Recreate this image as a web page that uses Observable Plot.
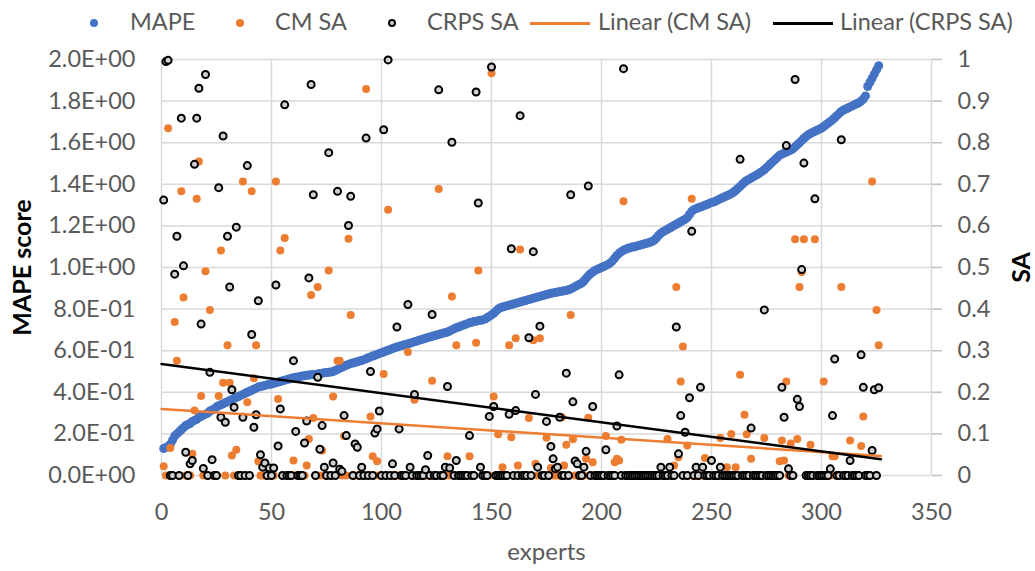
<!DOCTYPE html>
<html>
<head>
<meta charset="utf-8">
<script src="https://cdn.jsdelivr.net/npm/d3@7"></script>
<script src="https://cdn.jsdelivr.net/npm/@observablehq/plot@0.6"></script>
<style>
  html, body { margin: 0; padding: 0; background: #fff; }
  body { width: 1035px; height: 571px; overflow: hidden; font-family: Lato, "Liberation Sans", sans-serif; }
  #legend { position: relative; width: 1035px; height: 40px; color: #595959; font-size: 23.5px; }
  #legend .lt { position: absolute; top: 6px; line-height: 30px; white-space: nowrap; }
  #legend .mk { position: absolute; box-sizing: border-box; border-radius: 50%; }
  #legend .ln { position: absolute; height: 3px; width: 60px; top: 22px; }
</style>
</head>
<body>
<div id="legend"></div>
<div id="chart"></div>
<script>
// ---------- data ----------
const seriesNames = ["MAPE", "CM SA", "CRPS SA", "Linear (CM SA)", "Linear (CRPS SA)"];

// MAPE score of experts 1..326 (sorted ascending, left axis)
const mape = [
  0.13,0.135,0.14,0.15,0.17,0.19,0.20,0.21,0.22,0.23,
  0.24,0.245,0.25,0.26,0.265,0.27,0.28,0.285,0.29,0.295,
  0.30,0.31,0.315,0.32,0.33,0.335,0.34,0.345,0.35,0.355,
  0.36,0.365,0.37,0.375,0.38,0.385,0.39,0.395,0.40,0.405,
  0.41,0.415,0.42,0.425,0.428,0.43,0.433,0.436,0.438,0.44,
  0.443,0.446,0.449,0.452,0.455,0.458,0.461,0.464,0.467,0.47,
  0.472,0.474,0.476,0.478,0.48,0.482,0.483,0.484,0.485,0.486,
  0.488,0.49,0.492,0.494,0.495,0.496,0.497,0.50,0.505,0.51,
  0.515,0.52,0.525,0.53,0.534,0.538,0.541,0.544,0.547,0.55,
  0.553,0.557,0.561,0.566,0.57,0.574,0.578,0.582,0.586,0.59,
  0.594,0.598,0.602,0.606,0.61,0.614,0.618,0.621,0.624,0.627,
  0.63,0.633,0.636,0.64,0.643,0.646,0.65,0.653,0.656,0.66,
  0.663,0.666,0.669,0.672,0.675,0.678,0.681,0.684,0.687,0.69,
  0.695,0.70,0.705,0.71,0.714,0.718,0.722,0.726,0.73,0.734,
  0.737,0.74,0.742,0.744,0.746,0.748,0.752,0.758,0.765,0.772,
  0.78,0.79,0.80,0.806,0.81,0.813,0.816,0.819,0.822,0.825,
  0.828,0.831,0.834,0.837,0.84,0.843,0.846,0.849,0.852,0.855,
  0.858,0.861,0.864,0.867,0.87,0.873,0.876,0.878,0.88,0.882,
  0.884,0.886,0.888,0.89,0.893,0.897,0.902,0.908,0.914,0.92,
  0.925,0.935,0.948,0.96,0.97,0.978,0.985,0.99,0.995,1.0,
  1.005,1.01,1.015,1.022,1.032,1.045,1.058,1.068,1.076,1.083,
  1.088,1.092,1.095,1.098,1.1,1.103,1.106,1.109,1.112,1.115,
  1.118,1.121,1.125,1.132,1.142,1.155,1.165,1.172,1.178,1.184,
  1.19,1.196,1.202,1.208,1.214,1.22,1.226,1.232,1.24,1.255,
  1.27,1.278,1.283,1.287,1.291,1.295,1.299,1.303,1.308,1.313,
  1.315,1.32,1.325,1.33,1.335,1.34,1.345,1.35,1.355,1.362,
  1.37,1.38,1.39,1.40,1.41,1.418,1.424,1.43,1.436,1.442,
  1.448,1.455,1.462,1.47,1.48,1.49,1.50,1.51,1.52,1.53,
  1.54,1.545,1.55,1.555,1.56,1.565,1.57,1.58,1.59,1.60,
  1.61,1.62,1.63,1.638,1.644,1.65,1.655,1.66,1.665,1.67,
  1.678,1.686,1.694,1.702,1.71,1.72,1.73,1.74,1.75,1.757,
  1.762,1.767,1.772,1.777,1.782,1.787,1.792,1.80,1.81,1.825,
  1.87,1.89,1.91,1.93,1.95,1.97
];

// CM SA (right axis): [expert, SA]; every expert not listed lies on 0
const cmSA = [
  [1,0.022],[3,0.835],[4,0.066],[6,0.369],[7,0.276],[9,0.683],[10,0.428],[14,0.052],[15,0.156],[16,0.665],
  [17,0.755],[18,0.191],[20,0.491],[22,0.398],[26,0.191],[27,0.541],[28,0.223],[30,0.313],[31,0.223],[32,0.048],
  [34,0.062],[37,0.707],[39,0.176],[41,0.683],[42,0.234],[43,0.313],[44,0.034],[52,0.707],[53,0.184],[54,0.541],
  [56,0.571],[60,0.036],[66,0.024],[67,0.088],[68,0.434],[69,0.138],[71,0.453],[73,0.06],[76,0.493],[78,0.19],
  [80,0.276],[81,0.276],[83,0.095],[85,0.569],[86,0.386],[93,0.929],[95,0.142],[96,0.046],[98,0.034],[101,0.244],
  [103,0.639],[112,0.297],[115,0.182],[123,0.228],[126,0.689],[130,0.046],[132,0.43],[134,0.313],[140,0.046],[143,0.319],
  [144,0.493],[145,0.02],[150,0.967],[151,0.19],[153,0.099],[155,0.02],[158,0.313],[159,0.092],[161,0.33],[162,0.024],
  [163,0.543],[167,0.138],[169,0.325],[170,0.028],[172,0.33],[175,0.091],[177,0.018],[182,0.14],[183,0.024],[184,0.074],
  [186,0.386],[187,0.087],[193,0.04],[194,0.139],[196,0.032],[202,0.095],[206,0.032],[207,0.04],[208,0.036],[209,0.086],
  [210,0.659],[230,0.088],[233,0.024],[234,0.453],[235,0.044],[236,0.226],[237,0.31],[239,0.072],[241,0.665],[247,0.042],
  [254,0.09],[257,0.02],[259,0.1],[261,0.02],[263,0.242],[265,0.146],[266,0.099],[268,0.04],[274,0.09],[281,0.034],
  [282,0.084],[283,0.036],[284,0.226],[286,0.077],[288,0.568],[289,0.088],[290,0.453],[291,0.489],[292,0.568],[295,0.074],
  [297,0.568],[301,0.226],[305,0.046],[306,0.046],[309,0.453],[313,0.084],[318,0.071],[319,0.142],[323,0.707],[325,0.398],
  [326,0.313]
];

// CRPS SA (right axis): [expert, SA]; every expert not listed lies on 0
const crpsSA = [
  [1,0.662],[2,0.995],[3,0.998],[6,0.484],[7,0.575],[9,0.859],[10,0.504],[11,0.056],[13,0.028],[14,0.036],
  [15,0.748],[16,0.859],[17,0.931],[18,0.364],[19,0.017],[20,0.964],[22,0.248],[23,0.038],[26,0.692],[27,0.14],
  [28,0.816],[29,0.128],[30,0.575],[31,0.453],[32,0.206],[33,0.164],[34,0.597],[37,0.14],[39,0.745],[41,0.339],
  [42,0.116],[43,0.146],[44,0.42],[45,0.05],[46,0.02],[47,0.03],[49,0.018],[51,0.018],[52,0.458],[53,0.071],
  [54,0.16],[56,0.891],[60,0.276],[61,0.106],[65,0.078],[66,0.131],[67,0.475],[68,0.94],[69,0.675],[71,0.236],
  [72,0.063],[73,0.12],[74,0.02],[76,0.776],[78,0.03],[80,0.683],[81,0.015],[82,0.01],[83,0.144],[84,0.096],
  [85,0.601],[86,0.671],[88,0.076],[89,0.068],[91,0.02],[93,0.811],[95,0.25],[97,0.102],[98,0.112],[99,0.155],
  [101,0.831],[103,0.999],[105,0.028],[107,0.357],[108,0.112],[112,0.411],[113,0.02],[115,0.195],[120,0.014],[121,0.048],
  [123,0.387],[126,0.927],[129,0.02],[130,0.214],[131,0.018],[132,0.801],[134,0.036],[140,0.096],[143,0.922],[144,0.655],
  [145,0.02],[149,0.142],[150,0.982],[151,0.166],[158,0.147],[159,0.545],[161,0.156],[163,0.865],[167,0.331],[169,0.538],
  [170,0.195],[171,0.02],[172,0.359],[175,0.13],[177,0.07],[178,0.04],[179,0.016],[180,0.02],[181,0.14],[184,0.246],
  [186,0.675],[187,0.177],[188,0.035],[189,0.028],[192,0.02],[193,0.058],[194,0.696],[196,0.166],[202,0.062],[207,0.119],
  [208,0.242],[210,0.978],[227,0.02],[231,0.02],[234,0.357],[235,0.052],[236,0.144],[238,0.104],[240,0.187],[241,0.587],
  [243,0.02],[245,0.212],[246,0.02],[250,0.036],[254,0.02],[263,0.76],[268,0.114],[274,0.398],[282,0.212],[283,0.14],
  [284,0.793],[285,0.016],[288,0.952],[289,0.183],[290,0.166],[291,0.495],[292,0.751],[297,0.665],[304,0.016],[305,0.144],
  [306,0.28],[309,0.807],[313,0.036],[318,0.29],[319,0.212],[323,0.06],[324,0.206],[326,0.211]
];

// Linear trend lines (SA at the first and last expert)
const trendExperts = [0, 327];
const cmTrendSA = [0.160, 0.047];
const crpsTrendSA = [0.268, 0.039];

// axes
const xTicks = [0, 50, 100, 150, 200, 250, 300, 350];
const leftTicks = [0, 0.2, 0.4, 0.6, 0.8, 1.0, 1.2, 1.4, 1.6, 1.8, 2.0];
const rightTickLabels = ["0","0.1","0.2","0.3","0.4","0.5","0.6","0.7","0.8","0.9","1"];

const colors = { mape: "#4472C4", cm: "#ED7D31", crps: "#000000", crpsFill: "#d0d0d0" };

// ---------- tables ----------
const experts = mape.map((_, i) => i + 1);
const mapeRows = experts.map((e, i) => ({ expert: e, value: mape[i] }));
const cmMap = new Map(cmSA), crpsMap = new Map(crpsSA);
const cmRows = experts.map(e => ({ expert: e, sa: cmMap.get(e) ?? 0 }));
const crpsRows = experts.map(e => ({ expert: e, sa: crpsMap.get(e) ?? 0 }));
const cmTrend = trendExperts.map((e, i) => ({ expert: e, sa: cmTrendSA[i] }));
const crpsTrend = trendExperts.map((e, i) => ({ expert: e, sa: crpsTrendSA[i] }));

// SA (0..1) shares the frame with MAPE (0..2)
const saY = d => d.sa * 2;

const sci = v => {
  const [m, e] = v.toExponential(1).split("e");
  const n = +e;
  return m + "E" + (n < 0 ? "-" : "+") + String(Math.abs(n)).padStart(2, "0");
};

const grid = { stroke: "#d9d9d9", strokeOpacity: 1, strokeWidth: 1.5 };

const chart = Plot.plot({
  width: 1035,
  height: 531,
  marginLeft: 161,
  marginRight: 104,
  marginTop: 19,
  marginBottom: 96,
  x: { domain: [0, 350] },
  y: { domain: [0, 2] },
  style: { fontFamily: "Lato, 'Liberation Sans', sans-serif", fontSize: "23.5px", color: "#595959", background: "#fff", overflow: "visible" },
  marks: [
    Plot.gridX({ ticks: xTicks, ...grid }),
    Plot.gridY({ ticks: leftTicks, ...grid }),
    Plot.axisY({ anchor: "left", ticks: leftTicks, tickFormat: sci, tickSize: 0, tickPadding: 26, label: null }),
    Plot.axisY({ anchor: "right", ticks: leftTicks, tickFormat: d => rightTickLabels[leftTicks.indexOf(d)],
                 tickSize: 10, tickPadding: 16, stroke: "#bfbfbf", strokeWidth: 1.5, label: null }),
    Plot.axisX({ ticks: xTicks, tickFormat: d => String(d), tickSize: 0, tickPadding: 28, label: null }),
    Plot.text(["MAPE score"], { text: d => d, frameAnchor: "left", textAnchor: "middle", lineAnchor: "middle", rotate: -90, dx: -139, fontSize: 25, fontWeight: "bold", fill: "#000" }),
    Plot.text(["SA"], { text: d => d, frameAnchor: "right", textAnchor: "middle", lineAnchor: "middle", rotate: -90, dx: 90, fontSize: 25, fontWeight: "bold", fill: "#000" }),
    Plot.text(["experts"], { text: d => d, frameAnchor: "bottom", textAnchor: "middle", lineAnchor: "middle", dy: 77, fontSize: 24, fill: "#595959" }),
    Plot.dot(mapeRows, { x: "expert", y: "value", r: 4.5, fill: colors.mape, stroke: null }),
    Plot.dot(cmRows, { x: "expert", y: saY, r: 4, fill: colors.cm, stroke: null }),
    Plot.dot(crpsRows, { x: "expert", y: saY, r: 3.5, fill: colors.crpsFill, stroke: colors.crps, strokeWidth: 2 }),
    Plot.line(cmTrend, { x: "expert", y: saY, stroke: colors.cm, strokeWidth: 2.5 }),
    Plot.line(crpsTrend, { x: "expert", y: saY, stroke: colors.crps, strokeWidth: 2.5 })
  ]
});
document.getElementById("chart").appendChild(chart);

// ---------- legend (HTML, above the svg) ----------
const legend = document.getElementById("legend");
const legendItems = [
  { kind: "dot", color: colors.mape, mx: 94, tx: 130 },
  { kind: "dot", color: colors.cm, mx: 240, tx: 275 },
  { kind: "ring", color: colors.crps, mx: 392, tx: 427 },
  { kind: "line", color: colors.cm, mx: 530, tx: 598 },
  { kind: "line", color: colors.crps, mx: 773, tx: 840 }
];
legendItems.forEach((it, i) => {
  const m = document.createElement("span");
  if (it.kind === "line") {
    m.className = "ln";
    m.style.left = it.mx + "px";
    m.style.background = it.color;
  } else {
    m.className = "mk";
    const s = 8;
    m.style.width = s + "px"; m.style.height = s + "px";
    m.style.left = (it.mx - s / 2) + "px"; m.style.top = (23 - s / 2) + "px";
    if (it.kind === "dot") m.style.background = it.color;
    else { m.style.background = colors.crpsFill; m.style.border = "2px solid " + it.color; }
  }
  legend.appendChild(m);
  const t = document.createElement("span");
  t.className = "lt";
  t.style.left = it.tx + "px";
  t.textContent = seriesNames[i];
  legend.appendChild(t);
});
</script>
</body>
</html>
